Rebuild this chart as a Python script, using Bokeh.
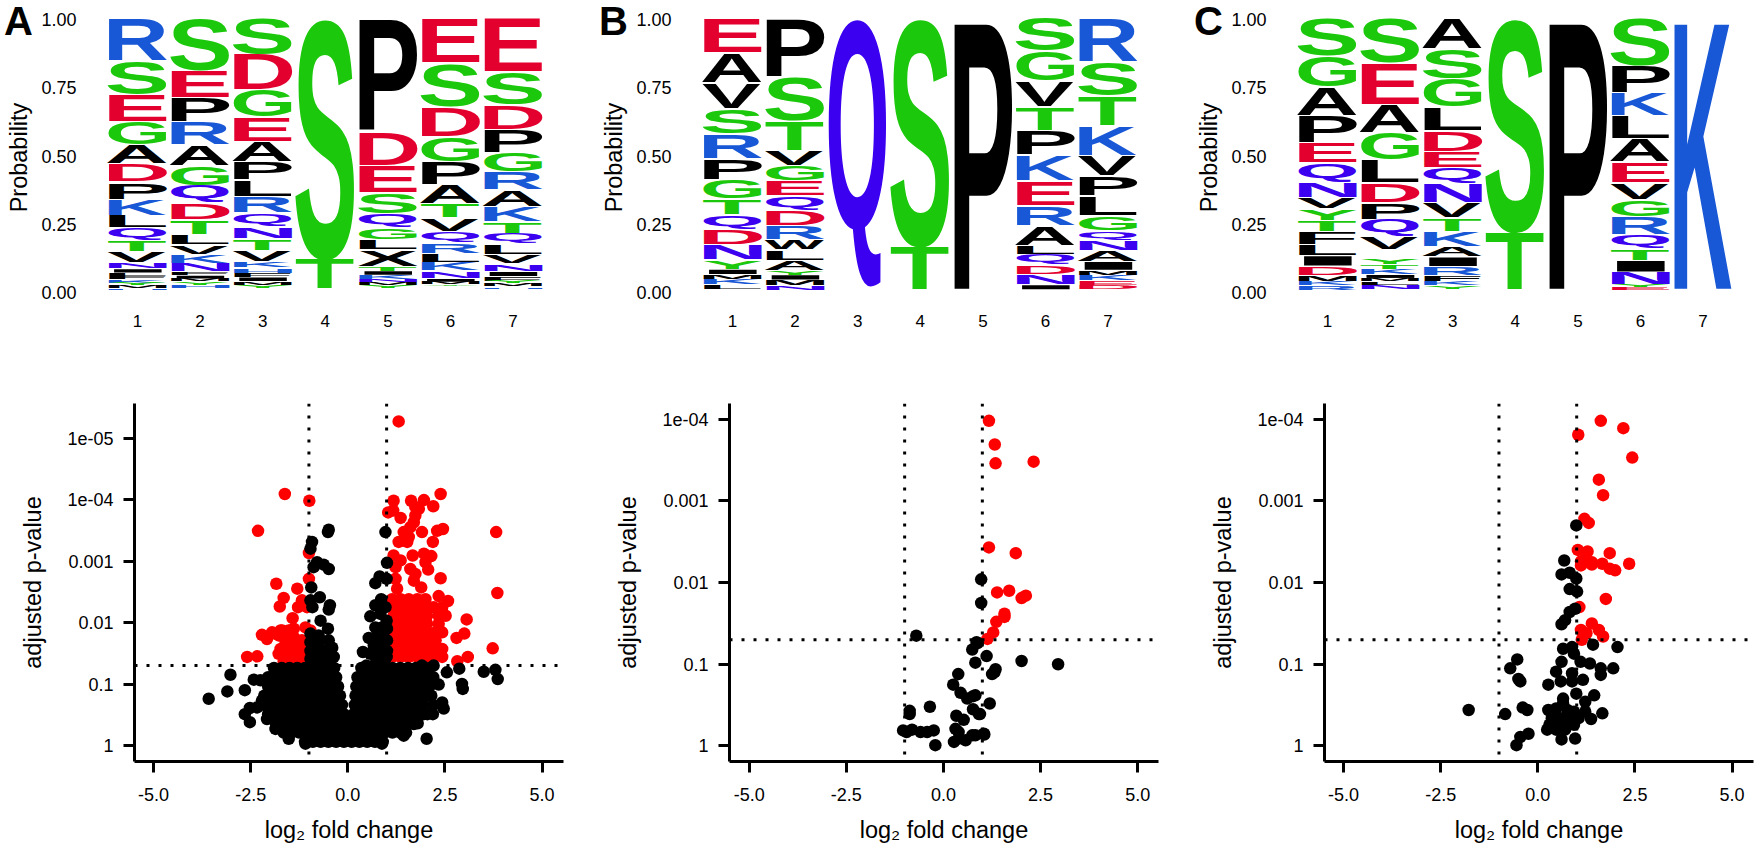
from bokeh.core.properties import value
from bokeh.embed import file_html
from bokeh.layouts import column, row
from bokeh.models import ColumnDataSource, CustomJSTickFormatter, Label, Range1d, Span
from bokeh.plotting import figure
from bokeh.resources import INLINE

# ---- sequence logos: letters in every position, top to bottom, with probability
logo_a = [
    [("R",.156),("S",.125),("E",.098),("G",.085),("A",.070),("D",.068),("P",.063),("K",.059),("L",.046),("Q",.044),("T",.043),("V",.040),("N",.022),("I",.014),("L",.012),("F",.012),("K",.013),("Y",.010),("M",.009),("H",.006)],
    [("S",.193),("E",.100),("P",.089),("R",.084),("A",.077),("G",.071),("Q",.063),("D",.062),("T",.054),("L",.039),("V",.034),("K",.034),("N",.031),("F",.012),("I",.012),("M",.010),("Y",.013),("H",.012)],
    [("S",.134),("D",.131),("G",.098),("E",.089),("A",.076),("P",.065),("L",.063),("R",.059),("Q",.049),("N",.044),("T",.044),("V",.040),("K",.024),("H",.018),("F",.015),("I",.016),("M",.012),("Y",.013)],
    [("S",.879),("T",.114)],
    [("P",.415),("D",.126),("E",.098),("S",.078),("Q",.053),("G",.043),("L",.037),("X",.061),("T",.015),("I",.016),("K",.016),("N",.008),("M",.012),("Y",.010)],
    [("E",.165),("S",.159),("D",.110),("G",.092),("P",.085),("A",.070),("T",.053),("V",.049),("Q",.043),("R",.037),("L",.033),("K",.031),("N",.028),("I",.012),("M",.009),("Y",.007)],
    [("E",.198),("S",.120),("D",.092),("P",.083),("G",.070),("R",.067),("A",.061),("K",.055),("T",.043),("Q",.040),("L",.039),("V",.034),("N",.027),("I",.018),("F",.016),("Y",.009),("M",.012),("H",.007)],
]
logo_b = [
    [("E",.128),("A",.110),("V",.095),("S",.090),("R",.092),("P",.077),("G",.071),("T",.057),("Q",.055),("D",.055),("N",.057),("Y",.034),("I",.018),("M",.018),("K",.020),("L",.017)],
    [("P",.216),("S",.162),("T",.110),("V",.055),("G",.055),("E",.055),("Q",.053),("D",.057),("R",.051),("W",.037),("L",.037),("A",.037),("Y",.016),("I",.018),("M",.020),("N",.017)],
    [("Q",.995)],
    [("S",.833),("T",.162)],
    [("P",.995)],
    [("S",.122),("G",.110),("V",.094),("T",.087),("P",.090),("K",.093),("E",.092),("R",.073),("A",.073),("L",.033),("Q",.039),("D",.034),("N",.037),("I",.018)],
    [("R",.161),("S",.126),("T",.110),("K",.107),("V",.076),("P",.073),("L",.071),("G",.054),("Q",.037),("N",.037),("A",.040),("I",.033),("M",.016),("K",.021),("E",.017),("D",.015)],
]
logo_c = [
    [("S",.138),("G",.116),("A",.104),("P",.098),("E",.076),("Q",.071),("N",.057),("V",.040),("Y",.042),("T",.043),("F",.046),("L",.040),("I",.039),("D",.034),("M",.021),("K",.016),("R",.015)],
    [("S",.165),("E",.153),("A",.104),("G",.098),("L",.085),("D",.073),("P",.061),("Q",.063),("V",.046),("I",.031),("Y",.024),("T",.016),("K",.021),("I",.012),("M",.012),("L",.013),("N",.017)],
    [("A",.114),("S",.109),("G",.104),("L",.085),("D",.077),("E",.061),("Q",.059),("N",.070),("V",.055),("T",.049),("K",.055),("A",.037),("I",.037),("R",.031),("F",.022),("K",.016),("Y",.012)],
    [("S",.781),("T",.214)],
    [("P",.995)],
    [("S",.175),("P",.100),("K",.083),("L",.085),("A",.085),("E",.076),("V",.063),("G",.061),("R",.065),("Q",.053),("T",.042),("I",.044),("N",.045),("Y",.009),("E",.010)],
    [("K",.995)],
]
letter_groups = {"GSTYC": "#1cc80c", "KRH": "#1858d6", "DE": "#e3002f", "QN": "#3c00f0", "AVLIPWFMX": "#000000"}
logo_ticks = {0: "0.00", 0.25: "0.25", 0.5: "0.50", 0.75: "0.75", 1: "1.00"}
positions = [1, 2, 3, 4, 5, 6, 7]

# ---- volcano plots: (log2 fold change, -log10 adjusted p)
a_red = [
    (-1.62,4.09),(-2.31,3.49),(-1.84,2.63),(-1.65,2.40),(-1.75,2.26),(-1.30,2.55),(-1.28,2.25),(-1.42,2.07),(-2.21,1.80),(-2.08,1.73),(-1.95,1.84),(-1.78,1.79),
    (-1.69,1.87),(-1.52,1.87),(-1.39,1.76),(-1.39,1.60),(-1.78,1.49),(-1.56,1.54),(-2.59,1.44),(-2.33,1.45),(-1.30,1.44),(-1.48,1.41),(-0.99,3.98),(-1.00,3.13),
    (-1.00,2.71),(-1.18,2.36),(-1.05,2.25),(-2.08,1.76),(-1.95,1.82),(-1.73,1.87),(-1.39,1.90),(-1.09,1.92),(-0.96,1.87),(-1.61,1.71),(-1.18,1.71),(-1.73,1.57),
    (-1.52,1.57),(-1.30,1.57),(-1.13,1.57),(-1.35,1.44),(-1.13,1.44),(-1.65,1.36),(-1.43,1.36),(-1.22,1.36),
    (1.31,5.27),(2.39,4.09),(1.18,3.98),(1.63,3.98),(1.96,3.99),(2.20,3.89),(1.74,3.88),(1.04,3.79),(1.17,3.82),(1.36,3.70),(1.74,3.74),(1.83,3.85),(2.45,3.52),
    (2.30,3.49),(3.82,3.47),(1.91,3.47),(1.61,3.55),(1.44,3.47),(1.31,3.31),(1.53,3.31),(1.57,3.39),(1.70,3.63),(2.19,3.31),(1.18,3.09),(1.67,3.09),(1.96,3.12),
    (2.15,3.08),(2.00,2.98),(1.36,3.01),(2.07,2.86),(1.23,2.90),(1.61,2.87),(1.74,2.79),(2.39,2.72),(1.23,2.71),(1.70,2.68),(1.27,2.55),(1.89,2.57),(3.85,2.48),
    (2.34,2.43),(2.58,2.35),(3.06,2.05),(3.00,1.82),(2.80,1.75),(3.73,1.58),(3.09,1.44),(2.82,1.37),
    (1.14,2.38),(1.36,2.38),(1.57,2.38),(1.79,2.38),(2.00,2.38),
    (1.14,2.25),(1.36,2.25),(1.57,2.25),(1.79,2.25),(2.00,2.25),(2.21,2.25),(2.43,2.25),
    (1.18,2.11),(1.40,2.11),(1.61,2.11),(1.83,2.11),(2.04,2.11),(2.34,2.11),(2.52,2.11),
    (1.18,1.98),(1.40,1.98),(1.61,1.98),(1.83,1.98),(2.04,1.98),(2.34,1.98),
    (1.18,1.84),(1.40,1.84),(1.61,1.84),(1.83,1.84),(2.04,1.84),(2.26,1.84),(2.43,1.84),
    (1.18,1.71),(1.40,1.71),(1.61,1.71),(1.83,1.71),(2.04,1.71),(2.26,1.71),
    (1.18,1.57),(1.40,1.57),(1.61,1.57),(1.83,1.57),(2.04,1.57),(2.26,1.57),(2.43,1.57),
    (1.14,1.44),(1.36,1.44),(1.57,1.44),(1.79,1.44),(2.00,1.44),(2.21,1.44),(2.43,1.44),
]
a_black = [
    (0.97,3.47),(1.01,2.97),(0.82,2.75),(0.71,2.64),(1.00,2.71),(0.86,2.38),(0.71,2.28),(0.97,2.25),(0.58,2.10),(0.84,2.14),(1.00,2.03),(0.71,1.92),(0.88,1.92),
    (1.01,1.90),(0.54,1.75),(0.71,1.76),(0.91,1.76),(1.01,1.71),(0.67,1.63),(0.88,1.60),(1.01,1.54),(0.39,1.52),(0.58,1.49),(0.80,1.46),(1.00,1.44),(0.48,1.30),(0.71,1.33),(0.93,1.36),
    (-0.49,3.51),(-0.51,3.47),(-0.92,3.31),(-0.96,3.20),(-0.79,2.98),(-0.62,2.94),(-0.49,2.87),(-0.88,2.90),(-0.94,2.57),(-0.96,2.36),(-0.72,2.41),(-0.46,2.28),(-0.91,2.25),(-0.49,2.21),
    (-0.70,2.03),(-0.51,1.90),(-0.96,1.82),(-0.75,1.79),(-0.96,1.68),(-0.75,1.68),(-0.49,1.71),(-0.40,1.59),(-0.96,1.54),(-0.75,1.54),(-0.58,1.54),(-0.96,1.41),(-0.75,1.41),(-0.53,1.41),(-0.36,1.44),
    (-3.58,0.76),(-3.10,0.88),(-3.02,1.15),(-2.65,0.90),(-2.42,1.07),(-2.25,1.06),(-2.65,0.51),(-2.52,0.61),(-2.52,0.38),(-2.21,0.73),(-2.33,0.62),(-2.08,0.43),(-1.86,0.27),(-1.52,0.11),
    (1.91,1.30),(2.21,1.30),(2.55,1.19),(2.87,1.25),(3.50,1.20),(3.80,1.23),(3.86,1.08),(2.94,1.00),(2.96,0.92),(2.34,0.99),(2.43,0.70),(2.47,0.60),(2.19,0.51),(2.03,0.11),(1.44,0.16),(1.70,0.35),(-1.09,0.03),(0.88,0.03),
]
a_mass_rows = [
    (1.26, [-1.9,-1.7,-1.5,-1.3,-1.1,-0.9,-0.7,-0.5,-0.35,0.35,0.55,0.75,0.95,1.15,1.35,1.55,1.75,1.95,2.1]),
    (1.11, [-2.05,-1.85,-1.65,-1.45,-1.25,-1.05,-0.85,-0.65,-0.45,-0.3,0.25,0.45,0.65,0.85,1.05,1.25,1.45,1.65,1.85,2.05,2.2]),
    (0.96, [-2.05,-1.85,-1.65,-1.45,-1.25,-1.05,-0.85,-0.65,-0.45,-0.25,0.22,0.4,0.6,0.8,1.0,1.2,1.4,1.6,1.8,2.0,2.1]),
    (0.81, [-2.15,-1.95,-1.75,-1.55,-1.35,-1.15,-0.95,-0.75,-0.55,-0.35,-0.2,0.2,0.4,0.6,0.8,1.0,1.2,1.4,1.6,1.8,2.0,2.15]),
    (0.66, [-2.15,-1.95,-1.75,-1.55,-1.35,-1.15,-0.95,-0.75,-0.55,-0.35,-0.15,0.18,0.35,0.55,0.75,0.95,1.15,1.35,1.55,1.75,1.95,2.2]),
    (0.51, [-2.05,-1.85,-1.65,-1.45,-1.25,-1.05,-0.85,-0.65,-0.45,-0.25,-0.1,0.15,0.35,0.55,0.75,0.95,1.15,1.35,1.55,1.75,1.95,2.05]),
    (0.36, [-1.85,-1.65,-1.45,-1.25,-1.05,-0.85,-0.65,-0.45,-0.25,-0.05,0.1,0.3,0.5,0.7,0.9,1.1,1.3,1.5,1.7,1.8]),
    (0.21, [-1.65,-1.45,-1.25,-1.05,-0.85,-0.65,-0.45,-0.25,-0.05,0.15,0.35,0.55,0.75,0.95,1.15,1.35,1.5]),
    (0.06, [-1.1,-0.9,-0.7,-0.5,-0.3,-0.1,0.1,0.3,0.5,0.7,0.9]),
]
b_red = [
    (1.17,3.98),(1.32,3.69),(1.34,3.46),(2.32,3.48),(1.17,2.43),(1.86,2.36),(1.38,1.88),(1.69,1.90),(2.01,1.81),(2.12,1.84),(1.57,1.62),(1.57,1.58),(1.36,1.52),(1.28,1.39),(1.13,1.31),
]
b_black = [
    (-0.70,1.35),(0.85,1.27),(0.74,1.18),(0.82,1.02),(0.38,0.88),(0.25,0.75),(0.44,0.65),(0.76,0.61),(0.61,0.58),(-0.35,0.48),(0.76,0.45),(-0.87,0.43),(-0.87,0.39),(0.33,0.37),(0.52,0.32),(0.91,0.39),
    (-1.04,0.19),(-0.95,0.17),(-0.81,0.20),(-0.59,0.17),(-0.42,0.17),(-0.25,0.19),(-0.21,0.01),(0.31,0.21),(0.39,0.17),(0.27,0.05),(0.39,0.09),(0.57,0.07),(0.74,0.13),(1.04,0.15),
    (0.97,2.04),(0.97,1.75),(0.88,1.26),(1.11,1.10),(2.01,1.04),(2.95,1.00),(1.34,0.94),(1.31,0.90),(1.25,0.88),(0.82,0.62),(1.19,0.52),(0.94,0.39),(1.05,0.14),(0.82,0.13),
]
c_red = [
    (1.62,3.98),(2.20,3.89),(1.04,3.81),(2.43,3.53),(1.57,3.26),(1.68,3.07),(1.20,2.78),(1.31,2.73),(1.03,2.40),(1.28,2.38),(1.85,2.36),(1.22,2.28),(1.39,2.25),(1.11,2.21),(1.66,2.23),(2.35,2.23),
    (1.85,2.17),(1.99,2.15),(1.39,2.22),(1.11,2.26),(1.75,1.80),(1.07,1.70),(1.39,1.50),(1.11,1.42),(1.57,1.42),(1.25,1.38),(1.68,1.34),(1.13,1.30),
]
c_black = [
    (0.99,2.70),(0.68,2.27),(0.61,2.10),(0.82,2.12),(0.99,2.05),(0.82,1.92),(1.01,1.89),(0.82,1.64),(0.96,1.68),(0.70,1.54),(0.61,1.49),(1.42,1.24),(2.05,1.21),(0.65,1.19),(0.88,1.21),(0.93,1.13),
    (0.61,1.03),(1.10,1.03),(1.34,1.01),(0.47,0.91),(0.88,0.89),(1.62,0.95),(1.62,0.87),(1.94,0.95),(0.59,0.79),(0.88,0.79),(1.16,0.81),(0.99,0.64),(1.45,0.62),(0.27,0.75),(1.22,0.54),(0.65,0.58),
    (1.66,0.40),(1.22,0.42),(1.37,0.33),(1.05,0.34),(-1.78,0.44),(-0.84,0.39),(-0.53,1.06),(-0.71,0.95),(-0.50,0.82),(-0.45,0.79),(-0.39,0.47),(-0.27,0.44),(-0.24,0.15),(-0.45,0.11),(-0.55,0.01),
    (0.27,0.44),(0.47,0.46),(0.65,0.52),(0.76,0.44),(0.93,0.42),(0.36,0.34),(0.59,0.34),(0.82,0.34),(0.30,0.26),(0.53,0.26),(0.76,0.26),(0.24,0.20),(0.47,0.20),(0.70,0.20),(0.61,0.08),(0.96,0.09),(0.93,0.26),
]
volcano_x_ticks = {-5: "-5.0", -2.5: "-2.5", 0: "0.0", 2.5: "2.5", 5: "5.0"}
volcano_y_ticks_a = {0: "1", 1: "0.1", 2: "0.01", 3: "0.001", 4: "1e-04", 5: "1e-05"}
volcano_y_ticks_bc = {0: "1", 1: "0.1", 2: "0.01", 3: "0.001", 4: "1e-04"}
fc_cut = 1.0
p_cut = 1.30

FONT = "Liberation Sans"
RED, BLACK = "#ff0000", "#000000"


def letter_colour(ch):
    for group, colour in letter_groups.items():
        if ch in group:
            return colour
    return BLACK


def base_fig(w, h, l, r, t, b, xr, yr):
    p = figure(width=w, height=h, x_range=Range1d(start=xr[0], end=xr[1]), y_range=Range1d(start=yr[0], end=yr[1]),
               toolbar_location=None, output_backend="svg",
               min_border_left=l, min_border_right=r, min_border_top=t, min_border_bottom=b)
    p.grid.visible = False
    p.outline_line_color = None
    for ax in (p.xaxis[0], p.yaxis[0]):
        ax.minor_tick_line_color = None
        ax.major_label_text_font = FONT
        ax.major_label_text_color = BLACK
        ax.axis_label_text_font = FONT
        ax.axis_label_text_font_style = "normal"
        ax.axis_label_text_color = BLACK
        ax.axis_label_text_font_size = "23.5px"
    return p


logo_sources = []


def logo_fig(data, panel, w, l, r):
    px0 = 1 + (-38) / 62.6
    px1 = 1 + 414 / 62.6
    p = base_fig(w, 348, l, r, 14, 48, (px0, px1), (-8 / 273, 278 / 273))
    xs, ys, hs, ts, cs = [], [], [], [], []
    for pos, stack in zip(positions, data):
        top = 1.0025
        for ch, prob in stack:
            top -= prob
            xs.append(pos)
            ys.append(top)
            hs.append(prob)
            ts.append(ch)
            cs.append(letter_colour(ch))
    src = ColumnDataSource(dict(column_no=xs, left=[v - 0.479 for v in xs], base=ys, prob=hs, t=ts, c=cs))
    p.text(x="left", y="base", text="t", source=src, text_font=value(FONT), text_font_style="bold",
           text_font_size=value("44px"), text_color="c", text_align="left", text_baseline="alphabetic")
    logo_sources.append((p, src))
    xa, ya = p.xaxis[0], p.yaxis[0]
    xa.ticker = positions
    xa.axis_line_color = None
    xa.major_tick_line_color = None
    xa.major_tick_out = 0
    xa.major_label_standoff = 14
    xa.major_label_text_font_size = "17px"
    ya.ticker = list(logo_ticks)
    ya.major_label_overrides = logo_ticks
    ya.axis_line_color = None
    ya.major_tick_line_color = None
    ya.major_tick_out = 0
    ya.major_label_standoff = 23
    ya.major_label_text_font_size = "18px"
    ya.axis_label = "Probability"
    ya.axis_label_standoff = 6
    p.add_layout(Label(x=4, y=0.5, text=panel, text_font=FONT, text_font_style="bold",
                       text_font_size="40px", text_color=BLACK, text_baseline="alphabetic", text_align="left"))
    return p


def volcano_fig(red, black, yticks, w, l, r, xr, yr):
    p = base_fig(w, 500, l, r, 55, 87, xr, yr)
    p.scatter([v[0] for v in red], [v[1] for v in red], size=12.5, color=RED, line_color=None)
    p.scatter([v[0] for v in black], [v[1] for v in black], size=12.5, color=BLACK, line_color=None)
    for v in (-fc_cut, fc_cut):
        p.add_layout(Span(location=v, dimension="height", line_color=BLACK, line_width=3, line_dash="3 9"))
    p.add_layout(Span(location=p_cut, dimension="width", line_color=BLACK, line_width=3, line_dash="3 9"))
    xa, ya = p.xaxis[0], p.yaxis[0]
    for ax in (xa, ya):
        ax.axis_line_width = 3
        ax.axis_line_color = BLACK
        ax.major_tick_line_width = 3
        ax.major_tick_line_color = BLACK
        ax.major_tick_out = 11
        ax.major_tick_in = 0
        ax.major_label_text_font_size = "18px"
    xa.ticker = list(volcano_x_ticks)
    xa.major_label_overrides = volcano_x_ticks
    xa.major_label_standoff = 15
    xa.axis_label = "log\u2082 fold change"
    xa.axis_label_standoff = 13
    ya.ticker = list(yticks)
    ya.major_label_overrides = yticks
    ya.major_label_standoff = 10
    ya.axis_label = "adjusted p-value"
    ya.axis_label_standoff = 18
    return p


a_points = list(a_black)
for y_row, x_row in a_mass_rows:
    a_points += [(v, y_row) for v in x_row]

top_a = logo_fig(logo_a, "A", 590, 99, 39)
top_b = logo_fig(logo_b, "B", 595, 104, 39)
top_c = logo_fig(logo_c, "C", 570, 104, 14)
bot_a = volcano_fig(a_red, a_points, volcano_y_ticks_a, 590, 134, 27, (-5.490, 5.553), (-0.260, 5.561))
bot_b = volcano_fig(b_red, b_black, volcano_y_ticks_bc, 595, 139, 27, (-5.508, 5.534), (-0.190, 4.192))
bot_c = volcano_fig(c_red, c_black, volcano_y_ticks_bc, 570, 139, 2, (-5.490, 5.550), (-0.190, 4.192))

# The logo letters are real text; this stretches each one to its box, the way a sequence logo draws them,
# and puts the panel letters into the margin at the top left of each panel.
top_c.xaxis[0].formatter = CustomJSTickFormatter(
    args=dict(f0=top_a, f1=top_b, f2=top_c, s0=logo_sources[0][1], s1=logo_sources[1][1], s2=logo_sources[2][1]),
    code="""
if (!window.__stretch_done) {
  window.__stretch_done = true;
  const pairs = [[f0, s0], [f1, s1], [f2, s2]];
  const panel_left = {A: 4, B: 9, C: 9};
  const cv = document.createElement('canvas').getContext('2d');
  cv.font = 'bold 44px "Liberation Sans"';
  const collect = (root, out) => {
    for (const el of root.querySelectorAll('*')) {
      if (el.tagName.toLowerCase() === 'text') out.push(el);
      if (el.shadowRoot) collect(el.shadowRoot, out);
    }
  };
  const mapper = (fig) => {
    const L = fig.min_border_left, T = fig.min_border_top;
    const W = fig.width - L - fig.min_border_right, H = fig.height - T - fig.min_border_bottom;
    const xr = fig.x_range, yr = fig.y_range;
    return [v => L + (v - xr.start) / (xr.end - xr.start) * W, v => T + (yr.end - v) / (yr.end - yr.start) * H];
  };
  const run = () => {
    const all = [];
    collect(document, all);
    const sized = (n) => all.filter(e => Math.abs(parseFloat(getComputedStyle(e).fontSize) - n) < 0.01);
    for (const el of sized(40)) {
      if (el.__moved || !(el.textContent in panel_left)) continue;
      const svg = el.ownerSVGElement;
      const c = el.cloneNode(true);
      c.__moved = true;
      c.removeAttribute('clip-path');
      c.setAttribute('x', 0);
      c.setAttribute('y', 0);
      c.setAttribute('text-anchor', 'start');
      c.setAttribute('dominant-baseline', 'alphabetic');
      c.setAttribute('transform', `translate(${panel_left[el.textContent]} 35)`);
      svg.appendChild(c);
      el.remove();
    }
    const els = sized(44);
    const roots = [];
    for (const el of els) { if (!roots.includes(el.ownerSVGElement)) roots.push(el.ownerSVGElement); }
    pairs.forEach((pair, n) => {
      const root = roots[n];
      if (!root) return;
      const fig = pair[0], d = pair[1].data;
      const mp = mapper(fig), sx = mp[0], sy = mp[1];
      for (const el of els) {
        if (el.ownerSVGElement !== root || el.__stretched) continue;
        const ch = el.textContent;
        const m = cv.measureText(ch);
        const bb = el.getBBox(), ctm = el.getCTM();
        const ex = ctm.a * bb.x + ctm.e;
        const ey = ctm.d * (bb.y + m.fontBoundingBoxAscent) + ctm.f;
        let best = -1, bestd = 1e12;
        for (let i = 0; i < d.t.length; i++) {
          if (d.t[i] !== ch) continue;
          const dist = Math.abs(sx(d.left[i]) - ex) * 10 + Math.abs(sy(d.base[i]) - ey);
          if (dist < bestd) { bestd = dist; best = i; }
        }
        if (best < 0) continue;
        const i = best;
        const X0 = sx(d.column_no[i] - 0.479), X1 = sx(d.column_no[i] + 0.479);
        const Y0 = sy(d.base[i] + d.prob[i]);
        let Y1 = sy(d.base[i]);
        Y1 -= Math.min(1.2, 0.15 * (Y1 - Y0));
        const a = (X1 - X0) / (m.actualBoundingBoxLeft + m.actualBoundingBoxRight);
        const e = (Y1 - Y0) / (m.actualBoundingBoxAscent + m.actualBoundingBoxDescent);
        const tx = X0 + a * m.actualBoundingBoxLeft;
        const ty = Y0 + e * m.actualBoundingBoxAscent;
        el.setAttribute('x', 0);
        el.setAttribute('y', 0);
        el.setAttribute('text-anchor', 'start');
        el.setAttribute('dominant-baseline', 'alphabetic');
        el.setAttribute('transform', `matrix(${a} 0 0 ${e} ${tx} ${ty})`);
        el.__stretched = true;
      }
    });
  };
  for (const t of [100, 300, 700, 1500, 2500]) setTimeout(run, t);
}
return String(tick);
""")

page = column(row(top_a, top_b, top_c, spacing=0), row(bot_a, bot_b, bot_c, spacing=0), spacing=0)

open("out.html", "w").write(file_html(page, INLINE))
